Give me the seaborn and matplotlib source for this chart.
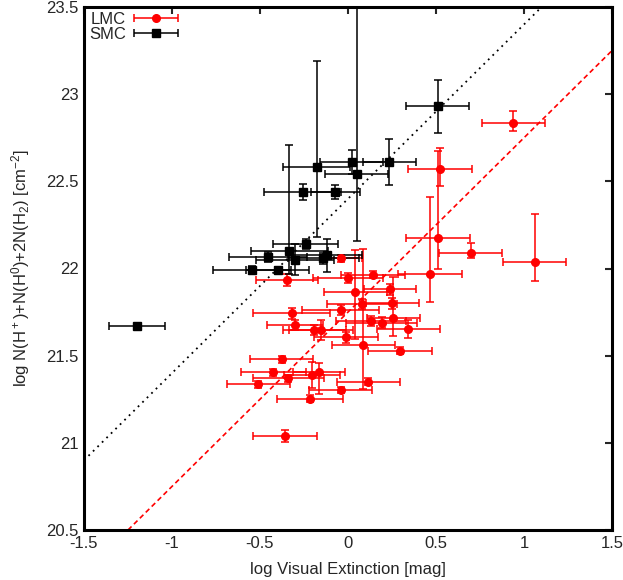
import numpy as np
import matplotlib
matplotlib.use("Agg")
import matplotlib.pyplot as plt
import seaborn as sns
from matplotlib.container import ErrorbarContainer
from matplotlib.legend_handler import HandlerErrorbar

# LMC points: x, y, x error, y error (low / high)
lmc_x = [0.94, 0.523, 0.511, 0.697, 1.06, 0.466, 0.239, 0.252, 0.258, -0.04,
         -0.347, 0.0, 0.142, 0.042, 0.081, -0.042, -0.32, -0.30, -0.191, -0.153,
         0.129, 0.191, 0.343, -0.011, 0.087, 0.295, -0.377, -0.424, -0.339, -0.51,
         -0.203, -0.165, -0.216, -0.042, 0.116, -0.358]
lmc_y = [22.836, 22.571, 22.176, 22.089, 22.04, 21.968, 21.88, 21.80, 21.714, 22.058,
         21.934, 21.947, 21.963, 21.865, 21.796, 21.762, 21.742, 21.676, 21.647, 21.647,
         21.70, 21.689, 21.654, 21.605, 21.56, 21.528, 21.479, 21.404, 21.37, 21.337,
         21.389, 21.408, 21.253, 21.303, 21.35, 21.04]
lmc_xerr = [0.18, 0.18, 0.18, 0.18, 0.18, 0.18, 0.15, 0.15, 0.15, 0.12,
            0.175, 0.2, 0.18, 0.18, 0.2, 0.22, 0.22, 0.16, 0.18, 0.18,
            0.2, 0.2, 0.18, 0.18, 0.18, 0.18, 0.18, 0.185, 0.2, 0.18,
            0.16, 0.15, 0.185, 0.18, 0.18, 0.18]
lmc_ylo = [0.05, 0.10, 0.18, 0.03, 0.11, 0.16, 0.03, 0.03, 0.10, 0.02,
           0.035, 0.03, 0.02, 0.27, 0.03, 0.03, 0.03, 0.03, 0.03, 0.06,
           0.03, 0.03, 0.05, 0.03, 0.25, 0.02, 0.02, 0.02, 0.02, 0.02,
           0.075, 0.13, 0.02, 0.02, 0.02, 0.035]
lmc_yhi = [0.07, 0.12, 0.50, 0.06, 0.27, 0.44, 0.03, 0.03, 0.24, 0.02,
           0.035, 0.03, 0.02, 0.24, 0.03, 0.03, 0.03, 0.03, 0.03, 0.06,
           0.03, 0.03, 0.05, 0.03, 0.55, 0.02, 0.02, 0.02, 0.02, 0.02,
           0.075, 0.05, 0.02, 0.02, 0.02, 0.035]

# SMC points
smc_x = [0.51, -0.178, 0.021, 0.235, 0.049, -0.257, -0.072, -0.24, -0.333, -0.455,
         -0.301, -0.121, -0.14, -0.545, -0.40, -1.2]
smc_y = [22.93, 22.58, 22.61, 22.61, 22.54, 22.44, 22.44, 22.14, 22.10, 22.067,
         22.05, 22.077, 22.058, 21.993, 21.99, 21.67]
smc_xerr = [0.18, 0.19, 0.18, 0.15, 0.18, 0.22, 0.14, 0.185, 0.22, 0.22,
            0.22, 0.2, 0.2, 0.22, 0.18, 0.16]
smc_ylo = [0.15, 0.40, 0.07, 0.13, 0.38, 0.045, 0.04, 0.03, 0.13, 0.03,
           0.09, 0.095, 0.03, 0.02, 0.02, 0.01]
smc_yhi = [0.15, 0.61, 0.07, 0.13, 1.0, 0.045, 0.04, 0.03, 0.61, 0.03,
           0.09, 0.095, 0.03, 0.02, 0.02, 0.01]

# fitted relations: log N = log Av + intercept
smc_intercept = 22.4
lmc_intercept = 21.75

x_ticks = [-1.5, -1, -0.5, 0, 0.5, 1, 1.5]
x_labels = ["-1.5", "-1", "-0.5", "0", "0.5", "1", "1.5"]
y_ticks = [20.5, 21, 21.5, 22, 22.5, 23, 23.5]
y_labels = ["20.5", "21", "21.5", "22", "22.5", "23", "23.5"]

sns.set_style("white")
plt.rcParams["font.family"] = ["Liberation Sans", "DejaVu Sans"]
plt.rcParams["mathtext.default"] = "regular"
plt.rcParams["axes.unicode_minus"] = False

fig = plt.figure(figsize=(6.23, 5.80), dpi=100)
ax = fig.add_axes([84 / 623, 1 - 530 / 580, 528 / 623, 523 / 580])

eb_kw = dict(linestyle="none", elinewidth=1.1, capsize=3, capthick=1.1, markersize=5.5)
ax.errorbar(lmc_x, lmc_y, xerr=lmc_xerr, yerr=[lmc_ylo, lmc_yhi], fmt="o",
            color="red", **eb_kw)
ax.errorbar(smc_x, smc_y, xerr=smc_xerr, yerr=[smc_ylo, smc_yhi], fmt="s",
            color="black", **eb_kw)

ax.axline((0, lmc_intercept), slope=1, color="red", linestyle=(0, (3, 2)), linewidth=1.2)
ax.axline((0, smc_intercept), slope=1, color="black", linestyle=(0, (1, 2.5)), linewidth=1.3)

# legend proxies with horizontal bars only
h_lmc = ax.errorbar([np.nan], [np.nan], xerr=[np.nan], fmt="o", color="red",
                    label="LMC", **eb_kw)
h_smc = ax.errorbar([np.nan], [np.nan], xerr=[np.nan], fmt="s", color="black",
                    label="SMC", **eb_kw)
ax.legend(handles=[h_lmc, h_smc], loc="upper left", frameon=False, markerfirst=False,
          fontsize=12, handlelength=2.8, handletextpad=0.4, labelspacing=0.0,
          borderaxespad=0.2, borderpad=0.1,
          handler_map={ErrorbarContainer: HandlerErrorbar(xerr_size=1.3)})

ax.set_xlim(-1.5, 1.5)
ax.set_ylim(20.5, 23.5)
ax.set_xticks(x_ticks)
ax.set_xticklabels(x_labels)
ax.set_yticks(y_ticks)
ax.set_yticklabels(y_labels)
ax.tick_params(direction="in", length=5, width=1.5, labelsize=12, top=True, right=True,
               labeltop=False, labelright=False, pad=4)
for side in ax.spines.values():
    side.set_linewidth(2.2)
    side.set_color("black")

ax.set_xlabel("log Visual Extinction [mag]", fontsize=12, labelpad=8)
ax.set_ylabel("log N(H$^+$)+N(H$^0$)+2N(H$_2$) [cm$^{-2}$]", fontsize=12, labelpad=10)

fig.savefig("out.png", dpi=100)
